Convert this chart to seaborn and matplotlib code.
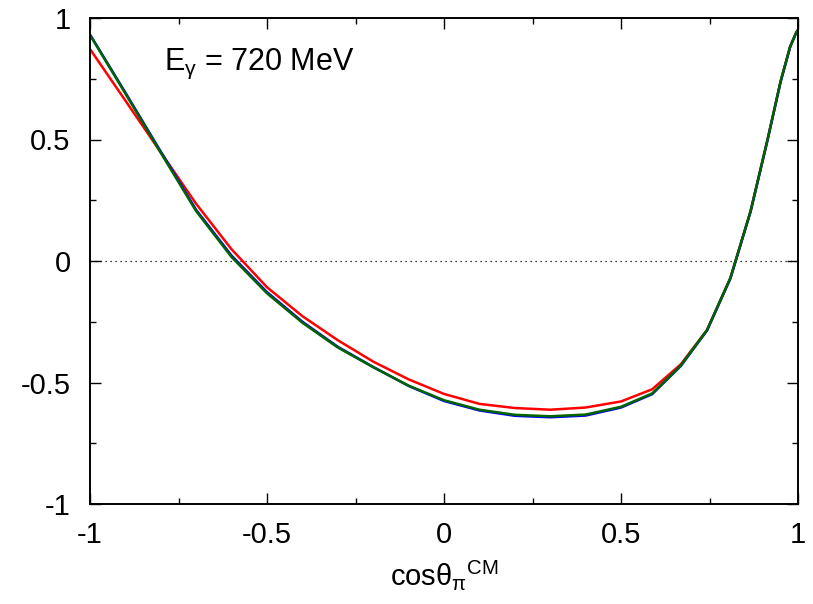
import numpy as np
import pandas as pd
import matplotlib
matplotlib.use("Agg")
import matplotlib.pyplot as plt
import seaborn as sns
from matplotlib.ticker import MultipleLocator, FormatStrFormatter

# ---- data ----
cos_theta = [-1.0, -0.9, -0.8, -0.7, -0.6, -0.5, -0.4, -0.3, -0.2, -0.1, 0.0,
             0.1, 0.2, 0.3, 0.4, 0.5, 0.588, 0.669, 0.743, 0.809, 0.866,
             0.914, 0.951, 0.978, 0.995, 1.0]

red = [0.872, 0.660, 0.447, 0.235, 0.048, -0.108, -0.227, -0.326, -0.414, -0.487,
       -0.547, -0.588, -0.605, -0.612, -0.603, -0.578, -0.528, -0.425, -0.284,
       -0.070, 0.205, 0.500, 0.740, 0.883, 0.940, 0.951]

blue = [0.932, 0.693, 0.450, 0.210, 0.022, -0.128, -0.250, -0.353, -0.436, -0.514,
        -0.576, -0.615, -0.637, -0.643, -0.636, -0.603, -0.548, -0.432, -0.286,
        -0.072, 0.203, 0.498, 0.738, 0.882, 0.940, 0.951]

green = [0.930, 0.689, 0.445, 0.205, 0.016, -0.133, -0.254, -0.356, -0.437, -0.513,
         -0.573, -0.612, -0.633, -0.639, -0.632, -0.600, -0.545, -0.430, -0.284,
         -0.070, 0.205, 0.500, 0.740, 0.883, 0.940, 0.951]

series_names = ["red", "blue", "green"]
series_colors = ["#ff0000", "#0000ff", "#006400"]
energy_label = "E$_\\mathrm{γ}$ = 720 MeV"
x_label = "cosθ$_\\mathrm{π}$$^\\mathrm{CM}$"
ticks = [-1, -0.5, 0, 0.5, 1]

df = pd.concat([
    pd.DataFrame({"x": cos_theta, "y": vals, "model": name})
    for name, vals in zip(series_names, [red, blue, green])
], ignore_index=True)

# ---- style ----
sns.set_theme(style="ticks")
plt.rcParams["font.family"] = ["Liberation Sans", "DejaVu Sans"]
plt.rcParams["mathtext.fontset"] = "custom"
plt.rcParams["mathtext.rm"] = "Liberation Sans"
plt.rcParams["mathtext.it"] = "Liberation Sans:italic"
plt.rcParams["axes.unicode_minus"] = False

fig = plt.figure(figsize=(8.13, 6.04), dpi=100)
ax = fig.add_axes([90 / 813, 100 / 604, 708 / 813, 486 / 604])

ax.axhline(0, color="black", lw=0.9, linestyle=(0, (1, 3)), zorder=1)

sns.lineplot(data=df, x="x", y="y", hue="model", hue_order=series_names,
             palette=dict(zip(series_names, series_colors)), linewidth=1.8,
             legend=False, ax=ax, sort=False, estimator=None)

ax.set_xlim(-1, 1)
ax.set_ylim(-1, 1)
ax.set_xticks(ticks)
ax.set_yticks(ticks)
ax.xaxis.set_minor_locator(MultipleLocator(0.25))
ax.yaxis.set_minor_locator(MultipleLocator(0.25))
ax.xaxis.set_major_formatter(FormatStrFormatter("%g"))
ax.yaxis.set_major_formatter(FormatStrFormatter("%g"))

ax.tick_params(which="both", direction="in", top=True, right=True,
               color="black", width=1.0, labelsize=21, labelcolor="black")
ax.tick_params(which="major", length=8)
ax.tick_params(which="minor", length=4)
ax.tick_params(axis="x", which="major", pad=12)
ax.tick_params(axis="y", which="major", pad=14)

for sp in ax.spines.values():
    sp.set_visible(True)
    sp.set_color("black")
    sp.set_linewidth(1.4)

ax.set_xlabel(x_label, fontsize=21, color="black", labelpad=7)
ax.set_ylabel("")

ax.text(0.105, 0.905, energy_label, transform=ax.transAxes, fontsize=22,
        color="black", ha="left", va="center")

fig.savefig("out.png", dpi=100)
